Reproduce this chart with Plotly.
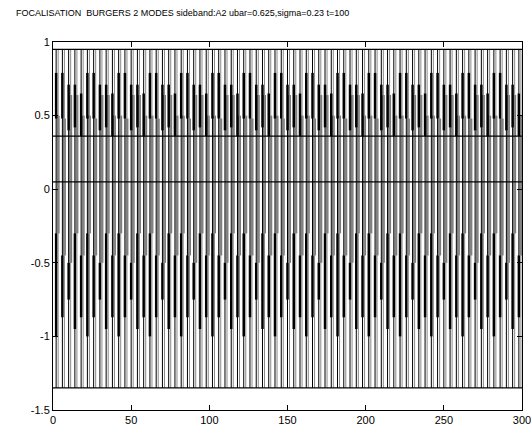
import plotly.graph_objects as go

# ---- data ----
title_text = "FOCALISATION  BURGERS 2 MODES sideband:A2 ubar=0.625,sigma=0.23 t=100"

# positions of the vertical strokes (x)
spike_x = [2, 6, 10, 14, 18, 22, 26, 30, 34, 38, 42, 46, 50, 54, 58, 62, 66, 70, 74, 78,
           82, 86, 90, 94, 98, 102, 106, 110, 114, 118, 122, 126, 130, 134, 138, 142, 146,
           150, 154, 158, 162, 166, 170, 174, 178, 182, 186, 190, 194, 198, 202, 206, 210,
           214, 218, 222, 226, 230, 234, 238, 242, 246, 250, 254, 258, 262, 266, 270, 274,
           278, 282, 286, 290, 294, 298]

# full extent of every stroke
stroke_top = 0.95
stroke_bottom = -1.35

# repeating 5-stroke group observed in the picture
group_upper_top = [0.79, 0.79, 0.71, 0.71, 0.65]
group_upper_bot = [0.48, 0.48, 0.40, 0.42, 0.36]
group_gray_top = [0.50, 0.48, 0.64, 0.64, 0.50]
group_gray_bot = [-0.30, -0.45, -0.50, -0.30, -0.45]
group_lower_top = [-0.30, -0.45, -0.50, -0.30, -0.45]
group_lower_bot = [-1.00, -0.87, -0.75, -0.95, -0.87]

# horizontal levels crossing the whole plot
level_y = [0.95, 0.36, 0.05, -1.35]
x_range = [0, 300]

gray_offset = 1.3


def segs(xs, tops, bots, dx=0.0):
    X, Y = [], []
    for x, t, b in zip(xs, tops, bots):
        X += [x + dx, x + dx, None]
        Y += [t, b, None]
    return X, Y


n = len(spike_x)
g = len(group_upper_top)
up_t = [group_upper_top[i % g] for i in range(n)]
up_b = [group_upper_bot[i % g] for i in range(n)]
gr_t = [group_gray_top[i % g] for i in range(n)]
gr_b = [group_gray_bot[i % g] for i in range(n)]
lo_t = [group_lower_top[i % g] for i in range(n)]
lo_b = [group_lower_bot[i % g] for i in range(n)]

fig = go.Figure()

gx, gy = segs(spike_x, gr_t, gr_b, gray_offset)
fig.add_trace(go.Scatter(x=gx, y=gy, mode="lines", line=dict(color="#7a7a7a", width=3),
                         hoverinfo="skip", showlegend=False))
gx2, gy2 = segs(spike_x, [stroke_top] * n, [stroke_bottom] * n, gray_offset)
fig.add_trace(go.Scatter(x=gx2, y=gy2, mode="lines", line=dict(color="#8a8a8a", width=1),
                         hoverinfo="skip", showlegend=False))
bx, by = segs(spike_x, [stroke_top] * n, [stroke_bottom] * n)
fig.add_trace(go.Scatter(x=bx, y=by, mode="lines", line=dict(color="black", width=1),
                         hoverinfo="skip", showlegend=False))
ux, uy = segs(spike_x, up_t, up_b)
fig.add_trace(go.Scatter(x=ux, y=uy, mode="lines", line=dict(color="black", width=2.5),
                         hoverinfo="skip", showlegend=False))
lx, ly = segs(spike_x, lo_t, lo_b)
fig.add_trace(go.Scatter(x=lx, y=ly, mode="lines", line=dict(color="black", width=2.5),
                         hoverinfo="skip", showlegend=False))

for yv in level_y:
    fig.add_trace(go.Scatter(x=x_range, y=[yv, yv], mode="lines",
                             line=dict(color="black", width=1.2),
                             hoverinfo="skip", showlegend=False))

axis_common = dict(showgrid=False, zeroline=False, showline=True, linecolor="black",
                   linewidth=1, mirror="ticks", ticks="inside", ticklen=5,
                   tickcolor="black", automargin=False, ticklabeloverflow="allow",
                   tickfont=dict(family="Liberation Sans", size=11, color="black"))

fig.update_layout(
    width=531, height=430,
    margin=dict(l=53, r=9, t=42, b=20),
    paper_bgcolor="white", plot_bgcolor="white",
    xaxis=dict(range=[0, 300], tickvals=[0, 50, 100, 150, 200, 250, 300], **axis_common),
    yaxis=dict(range=[-1.5, 1], tickvals=[-1.5, -1, -0.5, 0, 0.5, 1],
               ticktext=["-1.5", "-1", "-0.5", "0", "0.5", "1"], **axis_common),
    annotations=[dict(text=title_text, xref="paper", yref="paper",
                      x=-39 / 469, y=1 + 29 / 368, xanchor="left", yanchor="middle",
                      showarrow=False,
                      font=dict(family="Liberation Sans", size=9, color="black"))],
)

fig.write_html("out.html", config={"displayModeBar": False},
               post_script="document.body.style.margin='0';document.body.style.overflow='hidden';")
